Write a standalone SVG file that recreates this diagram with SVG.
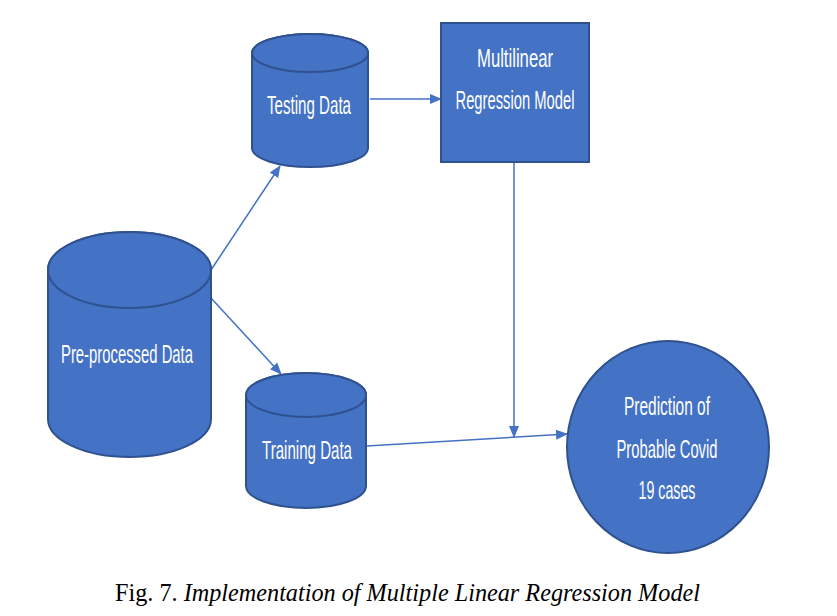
<svg xmlns="http://www.w3.org/2000/svg" width="837" height="616" viewBox="0 0 837 616">
<style>
.shape{fill:#4472C4;stroke:#2F528F;stroke-width:2}
.lbl{fill:#ffffff;font-family:"Liberation Sans",Arial,sans-serif;font-size:26px;text-anchor:middle}
.conn{stroke:#4472C4;stroke-width:1.5;fill:none;marker-end:url(#arr)}
.cap{font-family:"Liberation Serif","Times New Roman",serif;font-size:25px;fill:#000}
</style>
<defs>
<marker id="arr" markerUnits="userSpaceOnUse" markerWidth="12" markerHeight="12" viewBox="0 0 12 12" refX="11" refY="6" orient="auto">
<path d="M0,1 L12,6 L0,11 Z" fill="#4472C4"/>
</marker>
</defs>
<rect width="837" height="616" fill="#ffffff"/>
<g id="connectors">
<line class="conn" x1="211" y1="270" x2="280" y2="166"/>
<line class="conn" x1="211" y1="298" x2="281" y2="374"/>
<line class="conn" x1="370" y1="99" x2="441" y2="99"/>
<line class="conn" x1="514" y1="163" x2="514" y2="437"/>
<line class="conn" x1="367" y1="446" x2="567" y2="434"/>
</g>
<g id="testing-data">
<path class="shape" d="M252,53 A58,19 0 0 1 368,53 V148 A58,19 0 0 1 252,148 Z"/>
<ellipse class="shape" cx="310" cy="53" rx="58" ry="19"/>
<text class="lbl" x="309" y="114" textLength="84" lengthAdjust="spacingAndGlyphs">Testing Data</text>
</g>
<g id="multilinear-model">
<rect class="shape" x="441" y="23" width="148" height="139"/>
<text class="lbl" x="515" y="67" textLength="76" lengthAdjust="spacingAndGlyphs">Multilinear</text>
<text class="lbl" x="515" y="109" textLength="119" lengthAdjust="spacingAndGlyphs">Regression Model</text>
</g>
<g id="preprocessed-data">
<path class="shape" d="M48,270 A81.5,38 0 0 1 211,270 V419 A81.5,38 0 0 1 48,419 Z"/>
<ellipse class="shape" cx="129.5" cy="270" rx="81.5" ry="38"/>
<text class="lbl" x="127" y="363" textLength="132" lengthAdjust="spacingAndGlyphs">Pre-processed Data</text>
</g>
<g id="training-data">
<path class="shape" d="M246,395 A60,22 0 0 1 366,395 V486 A60,22 0 0 1 246,486 Z"/>
<ellipse class="shape" cx="306" cy="395" rx="60" ry="22"/>
<text class="lbl" x="307" y="459" textLength="90" lengthAdjust="spacingAndGlyphs">Training Data</text>
</g>
<g id="prediction">
<ellipse class="shape" cx="668" cy="447" rx="101" ry="106"/>
<text class="lbl" x="667" y="415" textLength="86" lengthAdjust="spacingAndGlyphs">Prediction of</text>
<text class="lbl" x="667" y="458" textLength="101" lengthAdjust="spacingAndGlyphs">Probable Covid</text>
<text class="lbl" x="667" y="499" textLength="57" lengthAdjust="spacingAndGlyphs">19 cases</text>
</g>
<text class="cap" x="115" y="601" textLength="585" lengthAdjust="spacingAndGlyphs">Fig. 7. <tspan font-style="italic">Implementation of Multiple Linear Regression Model</tspan></text>
</svg>
